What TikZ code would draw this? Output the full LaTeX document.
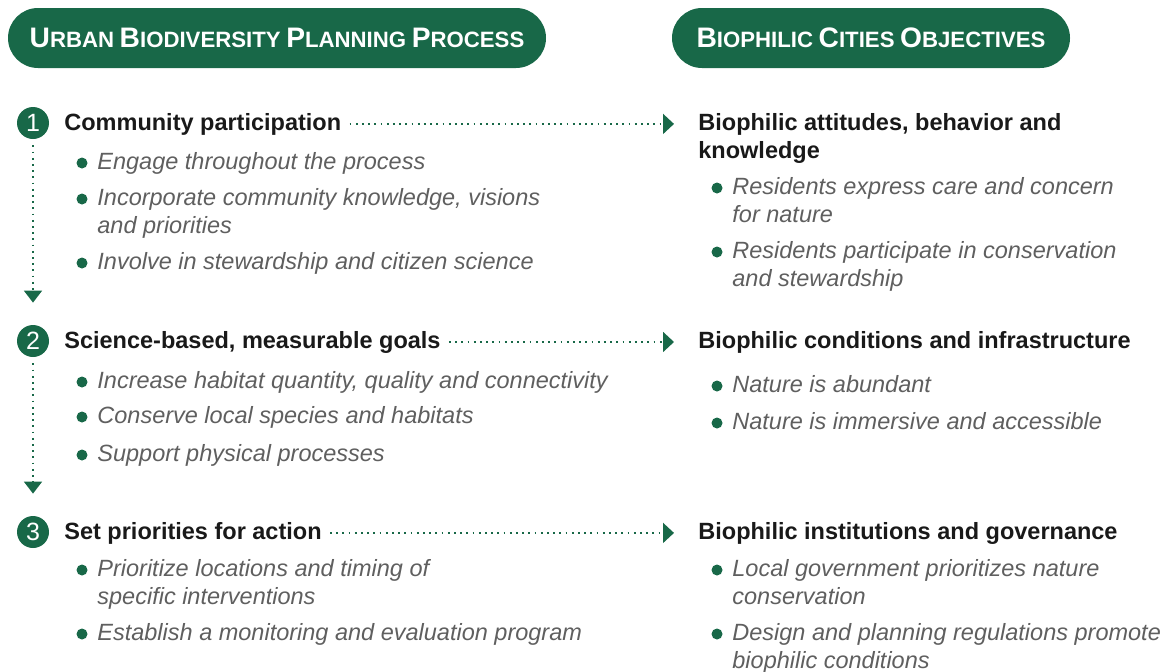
\documentclass[tikz,border=0pt]{standalone}
\usepackage{fontspec}
\setmainfont{Liberation Sans}
\usetikzlibrary{arrows.meta,positioning}
\definecolor{bgreen}{RGB}{24,104,72}
\definecolor{itgray}{RGB}{95,95,95}
\newcommand{\bigsc}[1]{{\fontsize{14.1}{16}\selectfont #1}}
\newcommand{\smsc}[1]{{\fontsize{11.1}{16}\selectfont #1}}
\begin{document}
\begin{tikzpicture}[x=0.5pt, y=-0.5pt,
    pill/.style={fill=bgreen, rounded corners=15pt, text=white, font=\bfseries,
      minimum height=30pt, inner sep=0pt},
    num/.style={circle, fill=bgreen, text=white, minimum size=16pt, inner sep=0pt,
      font=\fontsize{12.5}{14}\selectfont},
    head/.style={anchor=base west, inner sep=0pt, align=left, text=black!90,
      font=\fontsize{11.75}{14}\selectfont\bfseries},
    item/.style={anchor=base west, inner sep=0pt, align=left, text=itgray,
      font=\fontsize{11.75}{14}\selectfont\itshape},
    dot/.style={circle, fill=bgreen, minimum size=5.5pt, inner sep=0pt},
    flow/.style={bgreen, line width=0.9pt, dash pattern=on 0.9pt off 2.2pt,
      -{Triangle[length=5.5pt,width=10pt]}},
    down/.style={flow, -{Triangle[length=6pt,width=9pt]}}]
  \useasboundingbox (0,0) rectangle (1170,671);

  % Headers
  \node[pill, minimum width=269pt] (hl) at (277,38)
    {\bigsc{U}\smsc{RBAN} \bigsc{B}\smsc{IODIVERSITY} \bigsc{P}\smsc{LANNING} \bigsc{P}\smsc{ROCESS}};
  \node[pill, minimum width=199pt] (hr) at (871,38)
    {\bigsc{B}\smsc{IOPHILIC} \bigsc{C}\smsc{ITIES} \bigsc{O}\smsc{BJECTIVES}};

  % Steps
  \node[num] (n1) at (33,123) {1};
  \node[num] (n2) at (33,341) {2};
  \node[num] (n3) at (33,532) {3};

  \node[head] (h1) at (64,130) {Community participation};
  \node[head] (h2) at (64,348) {Science-based, measurable goals};
  \node[head] (h3) at (64,539) {Set priorities for action};

  % Objectives
  \node[head] (r1) at (698,158) {Biophilic attitudes, behavior and\\knowledge};
  \node[head] (r2) at (698,348) {Biophilic conditions and infrastructure};
  \node[head] (r3) at (698,539) {Biophilic institutions and governance};

  % Left bullets
  \node[dot] (d11) at (82,163) {};
  \node[item] (t11) at (97,169) {Engage throughout the process};
  \node[dot] (d12) at (82,199) {};
  \node[item] (t12) at (97,233) {Incorporate community knowledge, visions\\and priorities};
  \node[dot] (d13) at (82,263) {};
  \node[item] (t13) at (97,269) {Involve in stewardship and citizen science};

  \node[dot] (d21) at (82,382) {};
  \node[item] (t21) at (97,388) {Increase habitat quantity, quality and connectivity};
  \node[dot] (d22) at (82,417) {};
  \node[item] (t22) at (97,423) {Conserve local species and habitats};
  \node[dot] (d23) at (82,455) {};
  \node[item] (t23) at (97,461) {Support physical processes};

  \node[dot] (d31) at (82,570) {};
  \node[item] (t31) at (97,604) {Prioritize locations and timing of\\specific interventions};
  \node[dot] (d32) at (82,634) {};
  \node[item] (t32) at (97,640) {Establish a monitoring and evaluation program};

  % Right bullets
  \node[dot] (e11) at (717,188) {};
  \node[item] (u11) at (732,222) {Residents express care and concern\\for nature};
  \node[dot] (e12) at (717,252) {};
  \node[item] (u12) at (732,286) {Residents participate in conservation\\and stewardship};

  \node[dot] (e21) at (717,386) {};
  \node[item] (u21) at (732,392) {Nature is abundant};
  \node[dot] (e22) at (717,423) {};
  \node[item] (u22) at (732,429) {Nature is immersive and accessible};

  \node[dot] (e31) at (717,570) {};
  \node[item] (u31) at (732,604) {Local government prioritizes nature\\conservation};
  \node[dot] (e32) at (717,634) {};
  \node[item] (u32) at (732,668) {Design and planning regulations promote\\biophilic conditions};

  % Arrows
  \draw[flow] ([xshift=4pt]h1.east) -- ([xshift=-12pt]h1.east -| r1.west);
  \draw[flow] ([xshift=4pt]h2.east) -- ([xshift=-12pt]h2.east -| r2.west);
  \draw[flow] ([xshift=4pt]h3.east) -- ([xshift=-12pt]h3.east -| r3.west);
  \draw[down, shorten <=3pt, shorten >=11pt] (n1.south) -- (n2.north);
  \draw[down, shorten <=3pt, shorten >=11pt] (n2.south) -- (n3.north);
\end{tikzpicture}
\end{document}
